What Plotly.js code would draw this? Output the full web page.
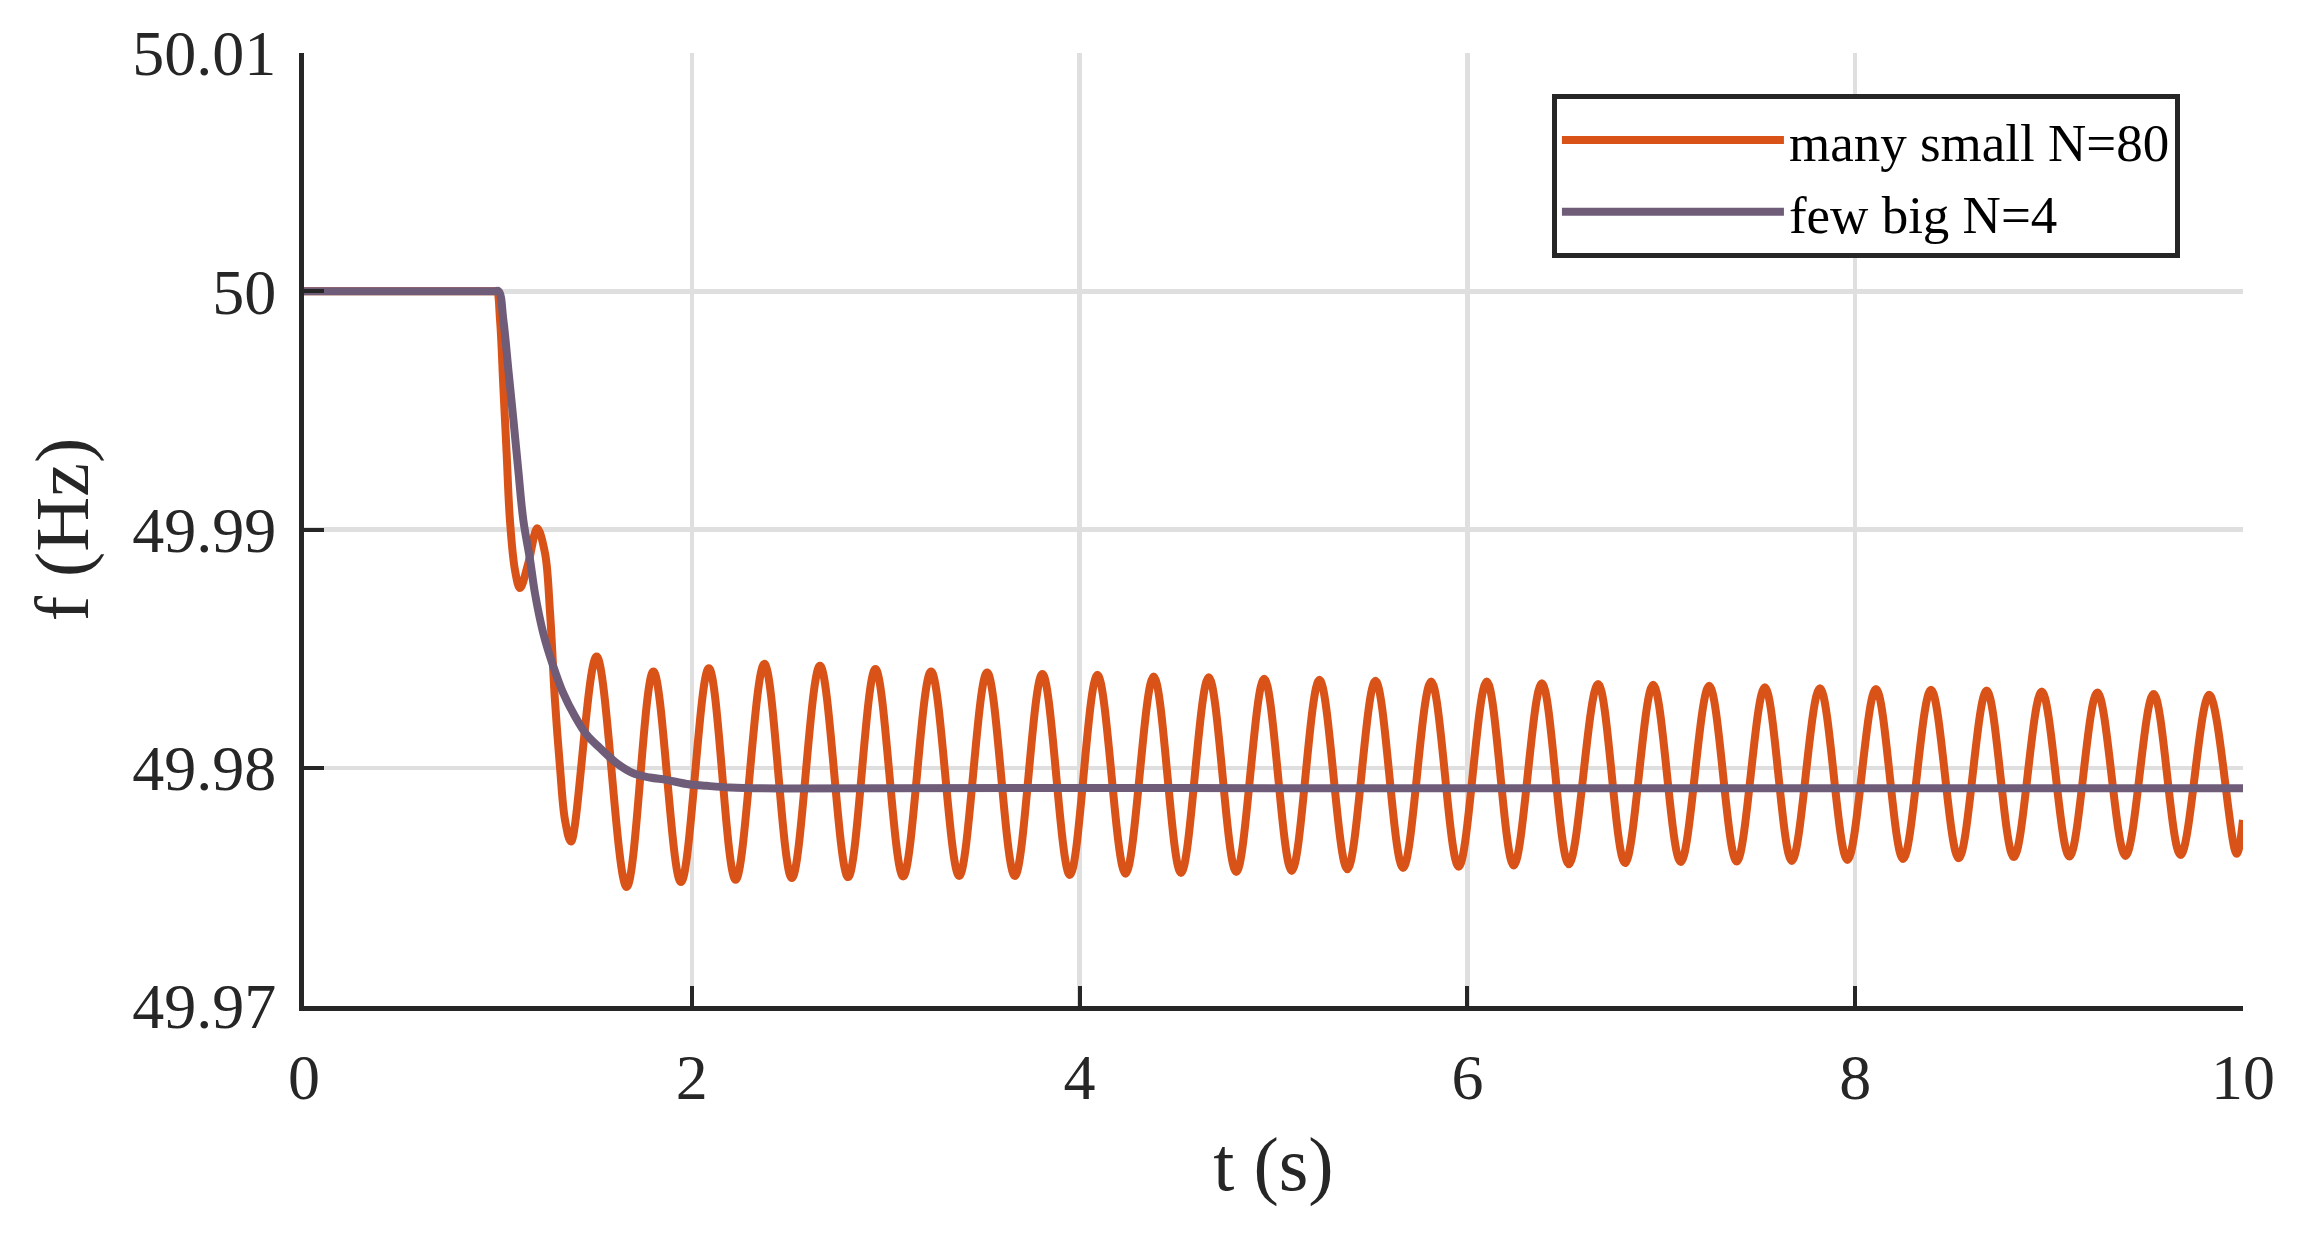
<!DOCTYPE html>
<html>
<head>
<meta charset="utf-8">
<script src="https://cdn.plot.ly/plotly-3.0.1.min.js"></script>
<style>html,body{margin:0;padding:0;background:#fff;}#chart{width:2302px;height:1241px;}</style>
</head>
<body>
<div id="chart"></div>
<script>
// ---- data ----
var seriesNames = ['many small N=80', 'few big N=4'];

// "many small N=80" (orange): time (s)
var orangeT = [0, 0.98, 0.994, 1.011, 1.028, 1.045, 1.062, 1.088, 1.114, 1.157, 1.203, 1.243, 1.269, 1.294, 1.320, 1.346, 1.377,
  1.509, 1.664, 1.802, 1.944, 2.088, 2.226, 2.374, 2.516, 2.661, 2.806, 2.947, 3.090, 3.234, 3.379,
  3.523, 3.666, 3.808, 3.950, 4.092, 4.237, 4.382, 4.523, 4.666, 4.808, 4.952, 5.094, 5.237, 5.381,
  5.526, 5.668, 5.813, 5.955, 6.100, 6.239, 6.384, 6.523, 6.674, 6.813, 6.958, 7.100, 7.247, 7.389,
  7.534, 7.673, 7.818, 7.960, 8.107, 8.247, 8.391, 8.534, 8.678, 8.818, 8.962, 9.105, 9.249, 9.394,
  9.539, 9.678, 9.826, 9.967, 10.0];
// "many small N=80" (orange): frequency (Hz)
var orangeF = [50.0, 50.0, 50.0, 49.9988, 49.9960, 49.9932, 49.9904, 49.9883, 49.98754, 49.98859, 49.99005, 49.98900, 49.98650, 49.98285, 49.98005, 49.97781, 49.9769,
  49.98467, 49.9750, 49.98404, 49.9752, 49.98418, 49.97530, 49.98436, 49.97537, 49.98428, 49.97541, 49.98414, 49.97544, 49.98404, 49.97546,
  49.98400, 49.97546, 49.98394, 49.97550, 49.98390, 49.97555, 49.98383, 49.97558, 49.98380, 49.97562, 49.98374, 49.97567, 49.98369, 49.97574,
  49.98365, 49.97579, 49.98362, 49.97584, 49.98362, 49.97590, 49.98355, 49.97595, 49.98352, 49.97600, 49.98348, 49.97604, 49.98344, 49.97606,
  49.98338, 49.97609, 49.98334, 49.97613, 49.98331, 49.97617, 49.98327, 49.97620, 49.98324, 49.97625, 49.98320, 49.97627, 49.98316, 49.97630,
  49.98310, 49.97634, 49.98306, 49.97639, 49.97781];

// "few big N=4" (purple)
var purpleT = [0, 0.98, 1.004, 1.028, 1.054, 1.080, 1.105, 1.131, 1.166, 1.191, 1.234, 1.286, 1.337, 1.398, 1.458,
  1.527, 1.613, 1.698, 1.784, 1.870, 1.974, 2.077, 2.197, 2.455, 3, 4, 5, 6, 7, 8, 9, 10];
var purpleF = [50.0, 50.0, 50.0, 49.9988, 49.9967, 49.9946, 49.9925, 49.9904, 49.98872, 49.98733, 49.98565, 49.98425, 49.98313, 49.98215, 49.98138,
  49.98082, 49.98019, 49.97977, 49.97959, 49.97949, 49.97932, 49.97924, 49.97917, 49.97913, 49.97914, 49.97915, 49.97914, 49.97914, 49.97914, 49.97914, 49.97914, 49.97914];

var xTickVals = [0, 2, 4, 6, 8, 10];
var xTickText = ['0', '2', '4', '6', '8', '10'];
var yTickVals = [49.97, 49.98, 49.99, 50.0, 50.01];
var yTickText = ['49.97', '49.98', '49.99', '50', '50.01'];

var xTitle = 't (s)';
var yTitle = 'f (Hz)';

// ---- chart ----
var FONT = 'Liberation Serif, Times New Roman, serif';
var INK = '#262626';

var traces = [
  {x: orangeT, y: orangeF, name: seriesNames[0], type: 'scatter', mode: 'lines',
   line: {color: '#D95319', width: 8, shape: 'spline', smoothing: 1}},
  {x: purpleT, y: purpleF, name: seriesNames[1], type: 'scatter', mode: 'lines',
   line: {color: '#6F5C79', width: 8, shape: 'spline', smoothing: 1}}
];

var axisCommon = {
  showline: true, linecolor: INK, linewidth: 5, mirror: false,
  ticks: 'inside', ticklen: 20, tickwidth: 4, tickcolor: INK,
  showgrid: true, gridcolor: '#DFDFDF', gridwidth: 4.5, zeroline: false,
  tickfont: {family: FONT, size: 64, color: INK}
};

var layout = {
  width: 2302, height: 1241,
  paper_bgcolor: '#ffffff', plot_bgcolor: '#ffffff',
  margin: {l: 304, r: 59, t: 53, b: 235, autoexpand: false},
  showlegend: true,
  legend: {
    x: 0.6436, y: 0.957, xanchor: 'left', yanchor: 'top',
    bgcolor: '#ffffff', bordercolor: INK, borderwidth: 5,
    font: {family: FONT, size: 53, color: '#000000'},
    itemwidth: 222, tracegroupgap: 0
  },
  xaxis: Object.assign({}, axisCommon, {
    range: [0, 10], tickmode: 'array', tickvals: xTickVals, ticktext: xTickText,
    ticklabelstandoff: 11,
    title: {text: xTitle, font: {family: FONT, size: 76, color: INK}, standoff: 27}
  }),
  yaxis: Object.assign({}, axisCommon, {
    range: [49.97, 50.01], tickmode: 'array', tickvals: yTickVals, ticktext: yTickText,
    ticklabelstandoff: 10,
    title: {text: yTitle, font: {family: FONT, size: 76, color: INK}, standoff: 20}
  })
};

Plotly.newPlot('chart', traces, layout, {displayModeBar: false, staticPlot: true});
</script>
</body>
</html>
